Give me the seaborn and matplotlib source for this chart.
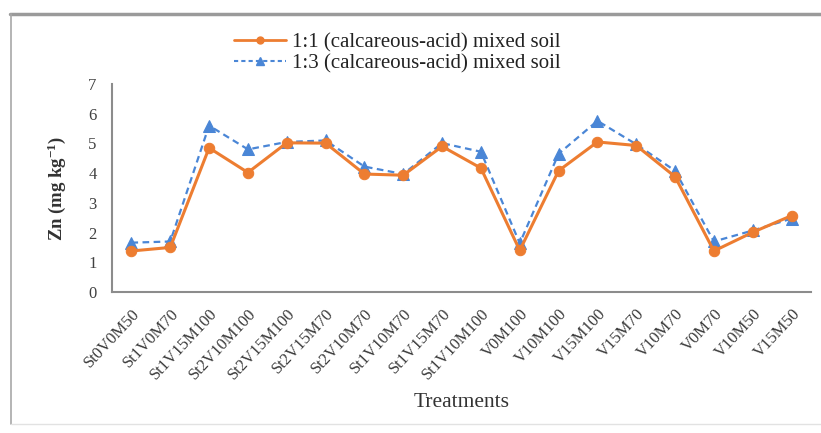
import matplotlib
matplotlib.use("Agg")
import matplotlib.pyplot as plt
import seaborn as sns
import pandas as pd
import numpy as np
from matplotlib.lines import Line2D

treatments = ["St0V0M50", "St1V0M70", "St1V15M100", "St2V10M100", "St2V15M100",
              "St2V15M70", "St2V10M70", "St1V10M70", "St1V15M70", "St1V10M100",
              "V0M100", "V10M100", "V15M100", "V15M70", "V10M70", "V0M70",
              "V10M50", "V15M50"]
zn_11 = [1.38, 1.50, 4.85, 4.02, 5.02, 5.01, 3.97, 3.93, 4.90, 4.17,
         1.40, 4.08, 5.05, 4.93, 3.88, 1.38, 2.01, 2.57]
zn_13 = [1.66, 1.70, 5.60, 4.80, 5.05, 5.10, 4.22, 3.97, 5.01, 4.72,
         1.64, 4.65, 5.76, 4.97, 4.08, 1.70, 2.07, 2.47]
series_names = ["1:1 (calcareous-acid) mixed soil", "1:3 (calcareous-acid) mixed soil"]

sns.set_style("white")
plt.rcParams["font.family"] = ["Liberation Serif", "DejaVu Serif"]
plt.rcParams["mathtext.fontset"] = "custom"
plt.rcParams["mathtext.rm"] = "Liberation Serif"
plt.rcParams["mathtext.bf"] = "Liberation Serif:bold"
plt.rcParams["mathtext.default"] = "bf"

orange = "#ED7D31"
blue = "#4A86D6"
axis_grey = "#8C8C8C"

pos = np.arange(len(treatments))
df = pd.DataFrame({"pos": pos, "a": zn_11, "b": zn_13})

fig = plt.figure(figsize=(8.21, 4.33), dpi=100)
ax = fig.add_axes([112 / 821, 1 - 292 / 433, (811 - 112) / 821, (292 - 84) / 433])

sns.lineplot(data=df, x="pos", y="b", ax=ax, color=blue, linestyle=(0, (3, 2)),
             linewidth=1.6, marker="^", markersize=8, markeredgecolor=blue)
sns.lineplot(data=df, x="pos", y="a", ax=ax, color=orange, linewidth=2.2,
             marker="o", markersize=7.5, markeredgecolor=orange)

ax.set_xlim(-0.5, len(treatments) - 0.5)
ax.set_ylim(0, 7)
ax.set_yticks(range(0, 8))
ax.tick_params(axis="y", length=5, width=1, color=axis_grey, labelsize=12,
               labelcolor="#404040", pad=6)
ax.set_xticks(pos)
ax.set_xticklabels(treatments, rotation=47, ha="right", rotation_mode="anchor",
                   fontsize=12, color="#3A3A3A")
ax.tick_params(axis="x", which="major", length=0, pad=10)
ax.set_xticks(np.arange(-0.5, len(treatments)), minor=True)
ax.tick_params(axis="x", which="minor", length=5, width=1, color=axis_grey, direction="out")

for side in ("top", "right"):
    ax.spines[side].set_visible(False)
for side in ("left", "bottom"):
    ax.spines[side].set_color(axis_grey)
    ax.spines[side].set_linewidth(1.5)

ax.set_xlabel("Treatments", fontsize=15.5, color="#333333")
ax.set_ylabel("Zn (mg kg$^{-1}$)", fontsize=13.5, fontweight="bold", color="#333333")
ax.xaxis.set_label_coords((462 - 112) / (811 - 112), -(402 - 292) / (292 - 84))
ax.yaxis.set_label_coords(-(112 - 57) / (811 - 112), 0.5)
ax.xaxis.label.set_va("center")
ax.yaxis.label.set_va("center")

handles = [
    Line2D([], [], color=orange, linewidth=2.0, marker="o", markersize=5),
    Line2D([], [], color=blue, linewidth=1.5, linestyle=(0, (2, 1.5)), marker="^", markersize=5.5),
]
fig.legend(handles, series_names, loc="center", bbox_to_anchor=(397 / 821, 1 - 53 / 433),
           frameon=False, fontsize=15, handlelength=2.5, handletextpad=0.3,
           labelspacing=0.08, labelcolor="#222222", borderpad=0)

# outer chart-area frame
fig.add_artist(Line2D([10 / 821, 1], [1 - 14 / 433] * 2, transform=fig.transFigure,
                      color="#9A9A9A", linewidth=2.5))
fig.add_artist(Line2D([11 / 821] * 2, [1 - 14 / 433, 1 - 424 / 433], transform=fig.transFigure,
                      color="#A8A8A8", linewidth=1.2))
fig.add_artist(Line2D([11 / 821, 1], [1 - 424 / 433] * 2, transform=fig.transFigure,
                      color="#E2E2E2", linewidth=1))

fig.savefig("out.png", dpi=100)
